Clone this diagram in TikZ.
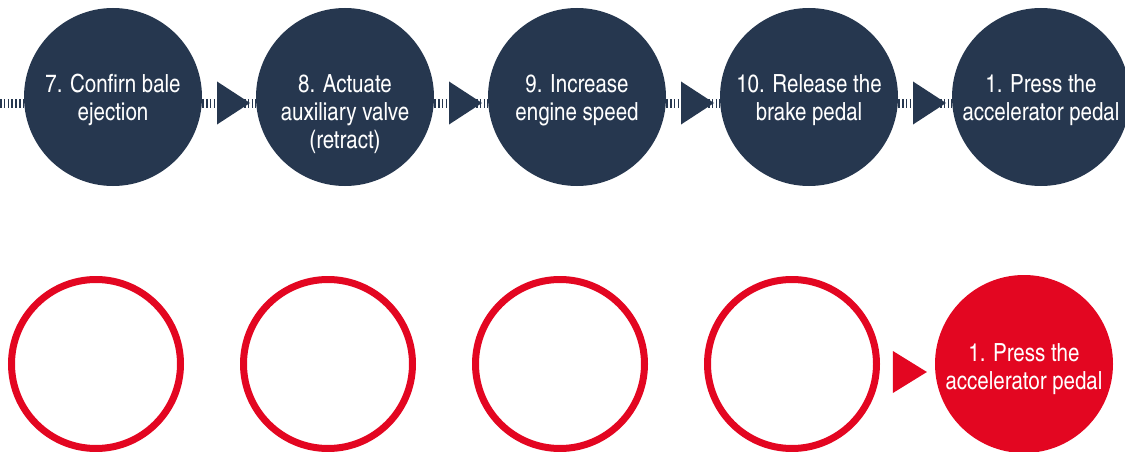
\documentclass[tikz,border=0pt]{standalone}
\usepackage{fontspec}
\setmainfont{TeX Gyre Heros Cn}
\usetikzlibrary{calc}
\definecolor{stepnavy}{HTML}{26374F}
\definecolor{stepred}{HTML}{E30621}

\begin{document}
\begin{tikzpicture}[x=1pt,y=-1pt,
	every node/.style={font=\fontsize{25}{28}\selectfont},
	navystep/.style={circle,fill=stepnavy,minimum size=178,inner sep=0},
	emptystep/.style={circle,draw=stepred,line width=7,minimum size=169,inner sep=0},
	redstep/.style={circle,fill=stepred,minimum size=178,inner sep=0},
	steptext/.style={white,anchor=north,align=center,inner sep=0},
	ticks/.style={stepnavy,line width=9,dash pattern=on 1.5 off 2.3}]
	\useasboundingbox (0,0) rectangle (1125,452);
	% done steps, top row
	\node[navystep] (s7) at (113,97) {};
	\node[navystep] (s8) at (345,97) {};
	\node[navystep] (s9) at (577,97) {};
	\node[navystep] (s10) at (809,97) {};
	\node[navystep] (s1) at (1041,97) {};
	\coordinate (lead) at (0,103);
	\draw[ticks] (lead) -- ([yshift=-6]s7.west);
	\foreach \a/\b in {s7/s8,s8/s9,s9/s10,s10/s1}{
		\draw[ticks] ([yshift=-6]\a.east) -- ([yshift=-6]\b.west);
		\fill[stepnavy] ($(\a.east)!0.5!(\b.west)$) ++(-12,6-21.5) -- ++(33,21.5) -- ++(-33,21.5) -- cycle;
	}
	\node[steptext] (t7) at ([yshift=23]s7.center) {7. Confirn bale\\ejection};
	\node[steptext] (t8) at ([yshift=23]s8.center) {8. Actuate\\auxiliary valve\\(retract)};
	\node[steptext] (t9) at ([yshift=23]s9.center) {9. Increase\\engine speed};
	\node[steptext] (t10) at ([yshift=23]s10.center) {10. Release the\\brake pedal};
	\node[steptext] (t1) at ([yshift=23]s1.center) {1. Press the\\accelerator pedal};
	% empty steps, bottom row
	\node[emptystep] (r1) at (96,364) {};
	\node[emptystep] (r2) at (328,364) {};
	\node[emptystep] (r3) at (560,364) {};
	\node[emptystep] (r4) at (792,364) {};
	\node[redstep] (again) at (1024,364) {};
	\fill[stepred] ($(r4.east)!0.5!(again.west)$) ++(-14.5,8-21) -- ++(34,21) -- ++(-34,21) -- cycle;
	\node[steptext] (ta) at ([yshift=21]again.center) {1. Press the\\accelerator pedal};
\end{tikzpicture}
\end{document}
